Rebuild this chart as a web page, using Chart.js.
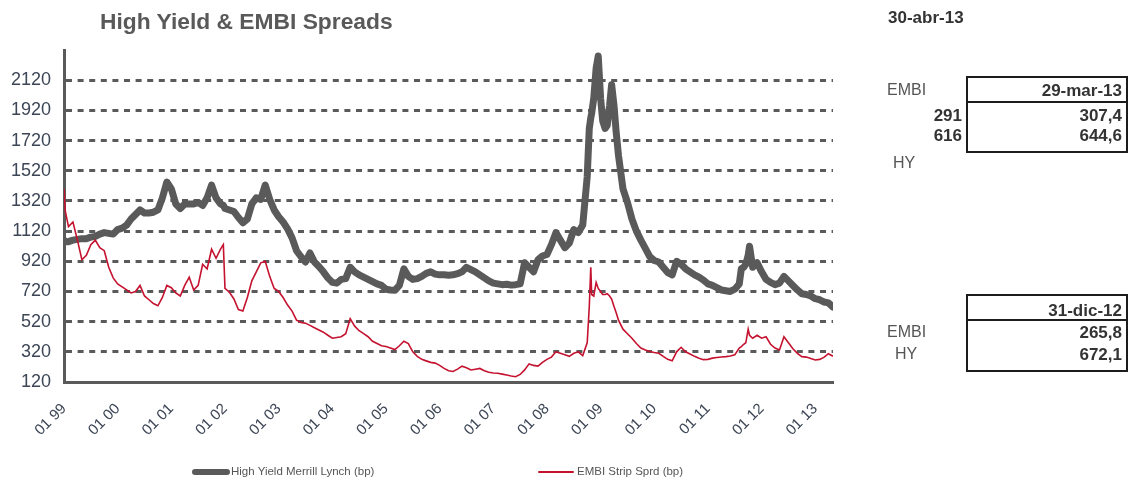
<!DOCTYPE html>
<html>
<head>
<meta charset="utf-8">
<script src="https://cdn.jsdelivr.net/npm/chart.js@4/dist/chart.umd.min.js"></script>
<style>
body{margin:0;background:#fff;font-family:"Liberation Sans",Arial,sans-serif;}
#wrap{position:relative;width:1131px;height:483px;overflow:hidden;background:#fff}
canvas{position:absolute;left:0;top:0}
.t{position:absolute;white-space:nowrap;line-height:1}
.b{font-weight:bold;color:#333}
.lab{color:#555}
.r{text-align:right}
.box{position:absolute;border:2px solid #1c1c1c;box-sizing:border-box}
.sep{position:absolute;height:2px;background:#1c1c1c}
</style>
</head>
<body>
<div id="wrap">
<canvas id="c" width="1131" height="483"></canvas>

<div class="t" style="left:100px;top:10px;font-size:22.8px;font-weight:bold;color:#595959">High Yield &amp; EMBI Spreads</div>

<div class="t b" style="left:888px;top:9px;font-size:17px">30-abr-13</div>

<div class="box" style="left:966px;top:76px;width:162px;height:77px"></div>
<div class="sep" style="left:966px;top:101px;width:162px"></div>
<div class="t lab" style="left:887px;top:82px;font-size:16px">EMBI</div>
<div class="t b r" style="right:9px;top:82px;font-size:17px">29-mar-13</div>
<div class="t b r" style="right:169px;top:107px;font-size:17px">291</div>
<div class="t b r" style="right:9px;top:107px;font-size:17px">307,4</div>
<div class="t b r" style="right:169px;top:127px;font-size:17px">616</div>
<div class="t b r" style="right:9px;top:127px;font-size:17px">644,6</div>
<div class="t lab" style="left:893px;top:155px;font-size:16px">HY</div>

<div class="box" style="left:966px;top:294px;width:162px;height:78px"></div>
<div class="sep" style="left:966px;top:319px;width:162px"></div>
<div class="t b r" style="right:9px;top:302px;font-size:17px">31-dic-12</div>
<div class="t lab" style="left:887px;top:324px;font-size:16px">EMBI</div>
<div class="t b r" style="right:9px;top:324px;font-size:17px">265,8</div>
<div class="t lab" style="left:895px;top:346px;font-size:16px">HY</div>
<div class="t b r" style="right:9px;top:346px;font-size:17px">672,1</div>

<div id="legend"></div>
</div>

<script>
// fechas de observacion (mensual, con puntos extra en los picos)
const dates = [
'1999-01-01','1999-01-10','1999-02-01','1999-03-01','1999-04-01','1999-05-01','1999-06-01','1999-07-01','1999-08-01','1999-09-01','1999-10-01','1999-11-01','1999-12-01',
'2000-01-01','2000-02-01','2000-03-01','2000-04-01','2000-05-01','2000-06-01','2000-07-01','2000-08-01','2000-09-01','2000-10-01','2000-11-01','2000-12-01',
'2001-01-01','2001-02-01','2001-03-01','2001-04-01','2001-05-01','2001-06-01','2001-07-01','2001-08-01','2001-09-01','2001-10-01','2001-11-01','2001-12-01','2001-12-20',
'2002-01-01','2002-02-01','2002-03-01','2002-04-01','2002-05-01','2002-06-01','2002-07-01','2002-08-01','2002-09-01','2002-10-01','2002-11-01','2002-12-01',
'2003-01-01','2003-02-01','2003-03-01','2003-04-01','2003-05-01','2003-06-01','2003-07-01','2003-08-01','2003-09-01','2003-10-01','2003-11-01','2003-12-01',
'2004-01-01','2004-02-01','2004-03-01','2004-04-01','2004-05-01','2004-06-01','2004-07-01','2004-08-01','2004-09-01','2004-10-01','2004-11-01','2004-12-01',
'2005-01-01','2005-02-01','2005-03-01','2005-04-01','2005-05-01','2005-06-01','2005-07-01','2005-08-01','2005-09-01','2005-10-01','2005-11-01','2005-12-01',
'2006-01-01','2006-02-01','2006-03-01','2006-04-01','2006-05-01','2006-06-01','2006-07-01','2006-08-01','2006-09-01','2006-10-01','2006-11-01','2006-12-01',
'2007-01-01','2007-02-01','2007-03-01','2007-04-01','2007-05-01','2007-06-01','2007-07-01','2007-08-01','2007-09-01','2007-10-01','2007-11-01','2007-12-01',
'2008-01-01','2008-02-01','2008-03-01','2008-04-01','2008-05-01','2008-06-01','2008-07-01','2008-08-01','2008-09-01','2008-10-01','2008-10-15','2008-10-25','2008-11-01','2008-11-15','2008-12-01','2008-12-15',
'2009-01-01','2009-01-15','2009-02-01','2009-02-15','2009-03-01','2009-03-15','2009-04-01','2009-04-15','2009-05-01','2009-06-01','2009-07-01','2009-08-01','2009-09-01','2009-10-01','2009-11-01','2009-12-01',
'2010-01-01','2010-02-01','2010-03-01','2010-04-01','2010-05-01','2010-06-01','2010-07-01','2010-08-01','2010-09-01','2010-10-01','2010-11-01','2010-12-01',
'2011-01-01','2011-02-01','2011-03-01','2011-04-01','2011-05-01','2011-06-01','2011-07-01','2011-08-01','2011-08-15','2011-09-01','2011-09-15','2011-10-01','2011-10-10','2011-11-01','2011-12-01',
'2012-01-01','2012-02-01','2012-03-01','2012-04-01','2012-05-01','2012-06-01','2012-07-01','2012-08-01','2012-09-01','2012-10-01','2012-11-01','2012-12-01','2012-12-31',
'2013-02-01','2013-03-01','2013-03-29','2013-04-30'
]

const hySpread = [
1060,1050,1050,1060,1065,1070,1070,1080,1085,1100,1110,1105,1100,
1130,1140,1160,1200,1230,1260,1240,1240,1245,1260,1340,1445,
1400,1300,1270,1300,1300,1300,1310,1290,1340,1425,1340,1300,1290,
1270,1260,1250,1210,1175,1200,1300,1340,1330,1425,1330,1260,
1215,1180,1135,1075,990,950,915,975,915,885,850,810,
780,775,800,805,880,850,830,815,800,785,770,760,
735,730,728,760,870,820,800,805,820,840,850,835,
830,830,828,830,838,850,880,865,850,830,810,790,
775,770,765,768,762,765,770,910,880,850,930,955,
965,1030,1110,1060,1010,1040,1130,1110,1160,1480,1800,1870,1900,2000,2200,2280,
2000,1850,1800,1820,1950,2090,1950,1780,1620,1400,1310,1200,1120,1060,1005,950,
925,915,880,845,830,920,900,870,850,830,815,795,
770,760,745,730,725,720,735,770,870,880,900,960,1020,880,910,
850,800,780,765,775,820,790,760,730,705,700,690,672.1,
665,650,644.6,616
]

const embiSpread = [
1400,1250,1150,1180,1060,930,960,1030,1060,1010,990,880,810,
770,750,730,710,720,760,690,665,640,625,680,760,
745,710,690,760,815,730,760,900,870,1000,940,1000,1030,
740,715,670,600,590,680,790,850,910,920,820,740,
720,680,630,590,530,515,510,495,480,465,450,430,
410,415,420,440,540,490,460,440,420,390,375,360,
355,345,335,360,390,375,320,290,270,260,250,245,
230,210,195,190,205,225,215,200,205,210,195,185,
180,178,172,166,160,155,170,200,240,230,225,250,
270,285,320,310,300,290,310,320,295,380,620,880,700,690,780,740,
720,700,700,705,690,670,620,580,530,470,440,410,375,345,332,322,
315,310,290,270,260,320,350,320,305,290,278,268,
270,278,282,286,288,292,300,345,355,370,380,470,430,410,430,
410,420,370,345,332,420,380,340,310,288,285,275,265.8,
270,285,307.4,291
]

const xTickLabels = ['01 99','01 00','01 01','01 02','01 03','01 04','01 05','01 06','01 07','01 08','01 09','01 10','01 11','01 12','01 13']
const yMin = 120, yMax = 2320, yStep = 200

function monthIndex(s){
const p = s.split('-').map(Number)
return (p[0]-1999)*12 + (p[1]-1) + (p[2]-1)/30
}

const hyPoints = dates.map((d,i)=>({x:monthIndex(d), y:hySpread[i]}))
const embiPoints = dates.map((d,i)=>({x:monthIndex(d), y:embiSpread[i]}))
const lastX = hyPoints[hyPoints.length-1].x

const axisGrey = '#5a5a5a'
const tickColor = '#3d4656'

const chart = new Chart(document.getElementById('c'),{
type:'line',
data:{
datasets:[{
label:'High Yield Merrill Lynch (bp)',
data:hyPoints,
borderColor:'#5a5a5a',
borderWidth:7,
borderJoinStyle:'round',
borderCapStyle:'round',
pointRadius:0,
order:1
},{
label:'EMBI Strip Sprd (bp)',
data:embiPoints,
borderColor:'#c4122f',
borderWidth:1.6,
pointRadius:0,
order:0
}]
},
options:{
responsive:false,
animation:false,
layout:{padding:{left:0,right:298,top:50,bottom:0}},
plugins:{legend:{display:false},tooltip:{enabled:false}},
scales:{
x:{
type:'linear',
min:0,
max:lastX,
afterFit:function(s){ s.height = 101 },
afterBuildTicks:function(s){ s.ticks = xTickLabels.map((l,i)=>({value:i*12})) },
grid:{display:false,drawTicks:false},
border:{display:true,color:axisGrey,width:3},
ticks:{
autoSkip:false,
minRotation:45,
maxRotation:45,
padding:18,
color:tickColor,
font:{family:'Liberation Sans',size:15},
callback:function(v){ return xTickLabels[Math.round(v/12)] }
}
},
y:{
min:yMin,
max:yMax,
afterFit:function(s){ s.width = 64 },
grid:{
drawTicks:false,
lineWidth:3,
color:function(ctx){
const v = ctx.tick ? ctx.tick.value : null
return (v===yMin || v===yMax) ? 'rgba(0,0,0,0)' : axisGrey
}
},
border:{display:true,color:axisGrey,width:3,dash:[6,5.6]},
ticks:{
stepSize:yStep,
padding:13,
color:tickColor,
font:{family:'Liberation Sans',size:18},
callback:function(v){ return v===yMax ? '' : v }
}
}
}
}
})

// leyenda
const legendPos = [{sw:192,sl:38,tx:231},{sw:538,sl:36,tx:577}]
const legend = document.getElementById('legend')
chart.data.datasets.forEach((ds,i)=>{
const p = legendPos[i]
const line = document.createElement('div')
const h = ds.borderWidth > 3 ? 6 : 2
line.style.cssText = 'position:absolute;left:'+p.sw+'px;top:'+(472-h/2)+'px;width:'+p.sl+'px;height:'+h+'px;background:'+ds.borderColor+';border-radius:'+(h/2)+'px'
const txt = document.createElement('div')
txt.className = 't'
txt.style.cssText += 'left:'+p.tx+'px;top:466px;font-size:11.5px;color:#555'
txt.innerText = ds.label
legend.appendChild(line)
legend.appendChild(txt)
})
</script>
</body>
</html>
